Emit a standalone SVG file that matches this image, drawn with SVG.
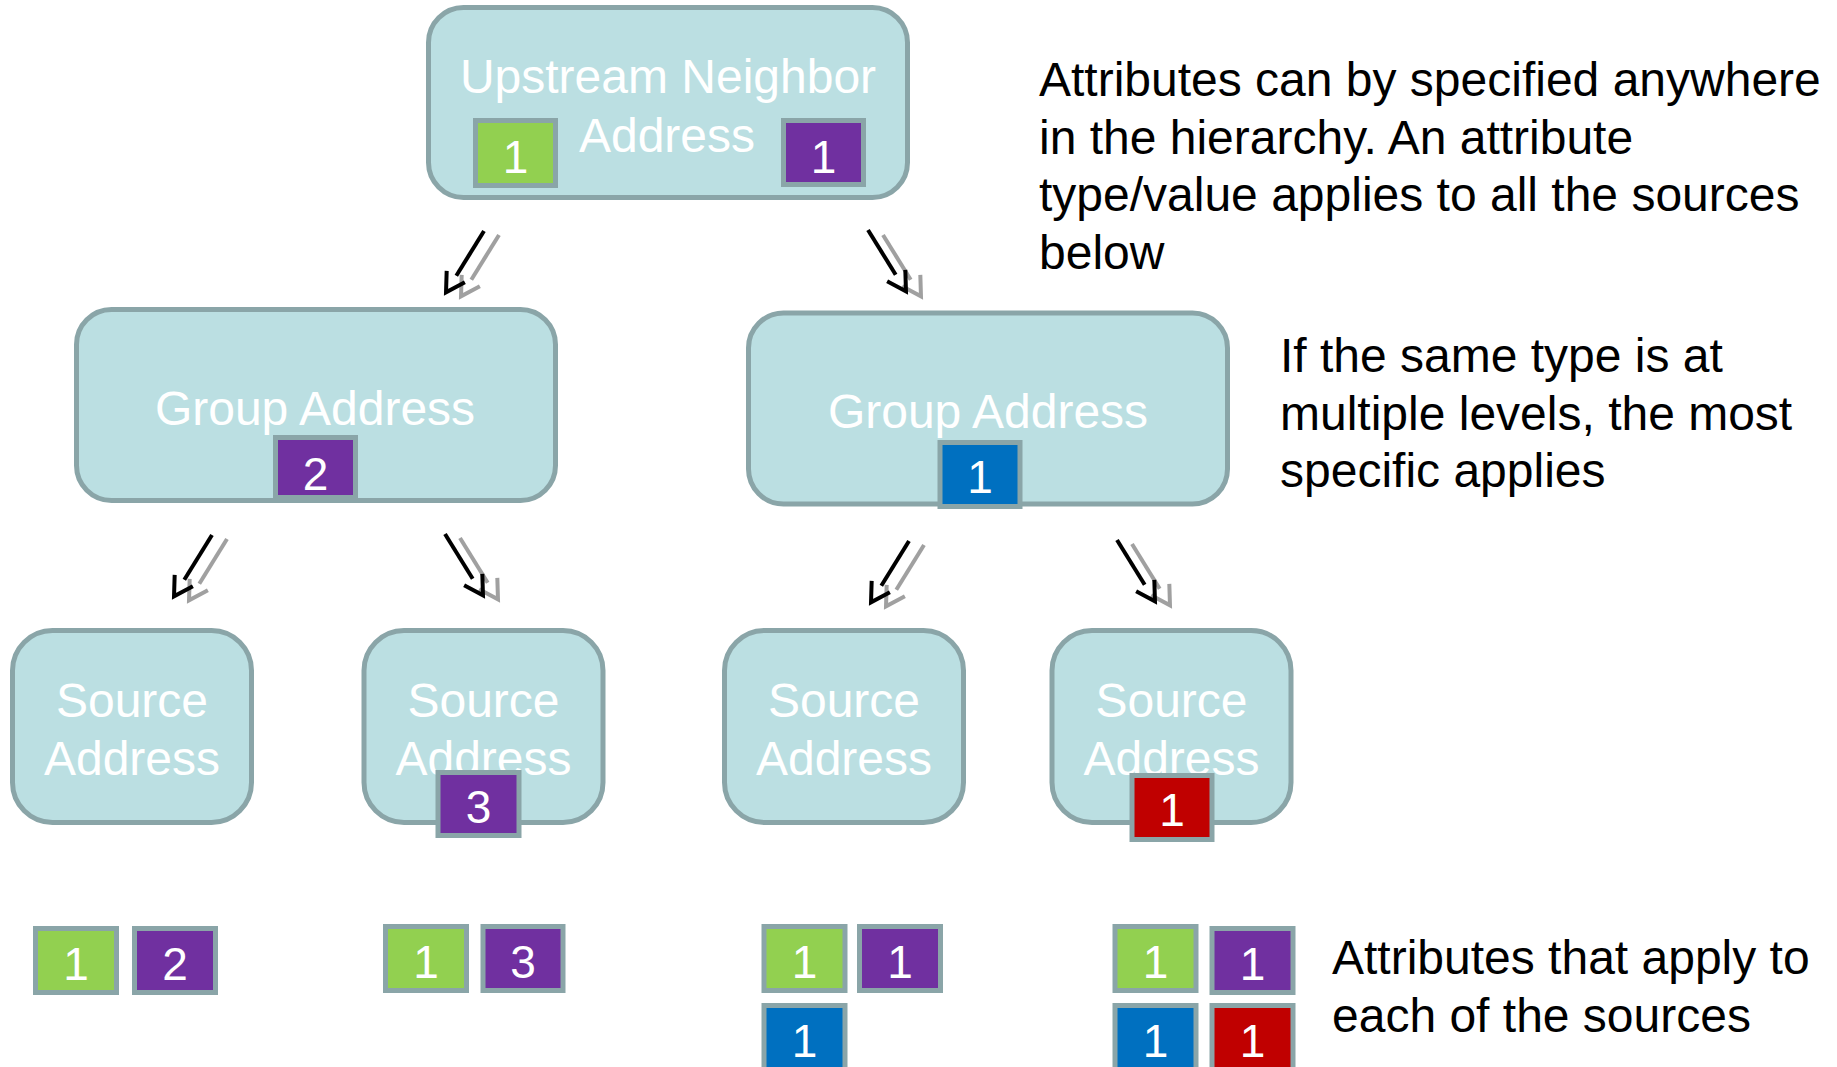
<svg xmlns="http://www.w3.org/2000/svg" width="1837" height="1067" viewBox="0 0 1837 1067">
<defs>
<style>
.node{fill:#bbdfe2;stroke:#8aa5a8;stroke-width:5}
.nt{font-family:"Liberation Sans",Arial,sans-serif;font-size:48px;fill:#ffffff;text-anchor:middle}
.bx{stroke:#8aa5a8;stroke-width:5}
.g{fill:#92d050}.p{fill:#7030a0}.b{fill:#0070c0}.r{fill:#c00000}
.bt{font-family:"Liberation Sans",Arial,sans-serif;font-size:46px;fill:#ffffff;text-anchor:middle}
.para{font-family:"Liberation Sans",Arial,sans-serif;font-size:48px;fill:#000000}
.ab{stroke:#000000;stroke-width:4;fill:none;marker-end:url(#mb)}
.ag{stroke:#a0a0a0;stroke-width:4;fill:none;marker-end:url(#mg)}
</style>
<marker id="mb" markerUnits="userSpaceOnUse" orient="auto" refX="0" refY="0" markerWidth="30" markerHeight="30" overflow="visible">
<path d="M 1,-10.7 L 19.5,0 L 1,10.7" fill="none" stroke="#000000" stroke-width="4"/>
</marker>
<marker id="mg" markerUnits="userSpaceOnUse" orient="auto" refX="0" refY="0" markerWidth="30" markerHeight="30" overflow="visible">
<path d="M 1,-10.7 L 19.5,0 L 1,10.7" fill="none" stroke="#a0a0a0" stroke-width="4"/>
</marker>
</defs>
<rect width="1837" height="1067" fill="#ffffff"/>

<g id="connectors">
<line class="ag" x1="499" y1="235" x2="471.3" y2="279.7"/>
<line class="ab" x1="484" y1="231" x2="456.3" y2="275.7"/>
<line class="ag" x1="883" y1="235" x2="910.7" y2="279.7"/>
<line class="ab" x1="868" y1="230" x2="895.7" y2="274.7"/>
<line class="ag" x1="227" y1="539" x2="199.3" y2="583.7"/>
<line class="ab" x1="212" y1="535" x2="184.3" y2="579.7"/>
<line class="ag" x1="460" y1="538" x2="487.7" y2="582.7"/>
<line class="ab" x1="445" y1="534" x2="472.7" y2="578.7"/>
<line class="ag" x1="924" y1="545" x2="896.3" y2="589.7"/>
<line class="ab" x1="909" y1="541" x2="881.3" y2="585.7"/>
<line class="ag" x1="1132" y1="544" x2="1159.7" y2="588.7"/>
<line class="ab" x1="1117" y1="540" x2="1144.7" y2="584.7"/>
</g>

<g id="upstream">
<rect class="node" x="428.5" y="7.5" width="479" height="190" rx="35"/>
<text class="nt" x="668" y="93">Upstream Neighbor</text>
<text class="nt" x="667" y="152">Address</text>
<rect class="bx g" x="475.5" y="120.5" width="80" height="65"/>
<text class="bt" x="515.5" y="173">1</text>
<rect class="bx p" x="783.5" y="120.5" width="80" height="64"/>
<text class="bt" x="823.5" y="173">1</text>
</g>

<g id="group-left">
<rect class="node" x="76.5" y="309.5" width="479" height="191" rx="35"/>
<text class="nt" x="315" y="425">Group Address</text>
<rect class="bx p" x="275.5" y="437.5" width="80" height="60"/>
<text class="bt" x="315.5" y="490">2</text>
</g>

<g id="group-right">
<rect class="node" x="748.5" y="313" width="479" height="191" rx="35"/>
<text class="nt" x="988" y="428">Group Address</text>
<rect class="bx b" x="940" y="442.5" width="80" height="64"/>
<text class="bt" x="980" y="493">1</text>
</g>

<g id="source-1">
<rect class="node" x="12.5" y="630.5" width="239" height="192" rx="40"/>
<text class="nt" x="132" y="717">Source</text>
<text class="nt" x="132" y="775">Address</text>
</g>

<g id="source-2">
<rect class="node" x="364" y="630.5" width="239" height="192" rx="40"/>
<text class="nt" x="483.5" y="717">Source</text>
<text class="nt" x="483.5" y="775">Address</text>
<rect class="bx p" x="438" y="772.5" width="81" height="63"/>
<text class="bt" x="478.5" y="823">3</text>
</g>

<g id="source-3">
<rect class="node" x="724.5" y="630.5" width="239" height="192" rx="40"/>
<text class="nt" x="844" y="717">Source</text>
<text class="nt" x="844" y="775">Address</text>
</g>

<g id="source-4">
<rect class="node" x="1052" y="630.5" width="239" height="192" rx="40"/>
<text class="nt" x="1171.5" y="717">Source</text>
<text class="nt" x="1171.5" y="775">Address</text>
<rect class="bx r" x="1132" y="775.5" width="80" height="64"/>
<text class="bt" x="1172" y="826">1</text>
</g>

<g id="result-1">
<rect class="bx g" x="35.5" y="928.5" width="81" height="64"/>
<text class="bt" x="76" y="980">1</text>
<rect class="bx p" x="134.5" y="928.5" width="81" height="64"/>
<text class="bt" x="175" y="980">2</text>
</g>

<g id="result-2">
<rect class="bx g" x="385.5" y="926.5" width="81" height="64"/>
<text class="bt" x="426" y="978">1</text>
<rect class="bx p" x="483" y="926.5" width="80" height="64"/>
<text class="bt" x="523" y="978">3</text>
</g>

<g id="result-3">
<rect class="bx g" x="764" y="926.5" width="81" height="64"/>
<text class="bt" x="804.5" y="978">1</text>
<rect class="bx p" x="859.5" y="926.5" width="81" height="64"/>
<text class="bt" x="900" y="978">1</text>
<rect class="bx b" x="764" y="1005.5" width="81" height="64"/>
<text class="bt" x="804.5" y="1057">1</text>
</g>

<g id="result-4">
<rect class="bx g" x="1115" y="926.5" width="81" height="64"/>
<text class="bt" x="1155.5" y="978">1</text>
<rect class="bx p" x="1212" y="928.5" width="81" height="64"/>
<text class="bt" x="1252.5" y="980">1</text>
<rect class="bx b" x="1115" y="1005.5" width="81" height="64"/>
<text class="bt" x="1155.5" y="1057">1</text>
<rect class="bx r" x="1212" y="1005.5" width="81" height="64"/>
<text class="bt" x="1252.5" y="1057">1</text>
</g>

<g id="note-top">
<text class="para" x="1039" y="96">Attributes can by specified anywhere</text>
<text class="para" x="1039" y="153.6">in the hierarchy. An attribute</text>
<text class="para" x="1039" y="211.2">type/value applies to all the sources</text>
<text class="para" x="1039" y="268.8">below</text>
</g>

<g id="note-middle">
<text class="para" x="1280" y="372">If the same type is at</text>
<text class="para" x="1280" y="429.6">multiple levels, the most</text>
<text class="para" x="1280" y="487.2">specific applies</text>
</g>

<g id="note-bottom">
<text class="para" x="1332" y="974.3">Attributes that apply to</text>
<text class="para" x="1332" y="1031.9">each of the sources</text>
</g>
</svg>
